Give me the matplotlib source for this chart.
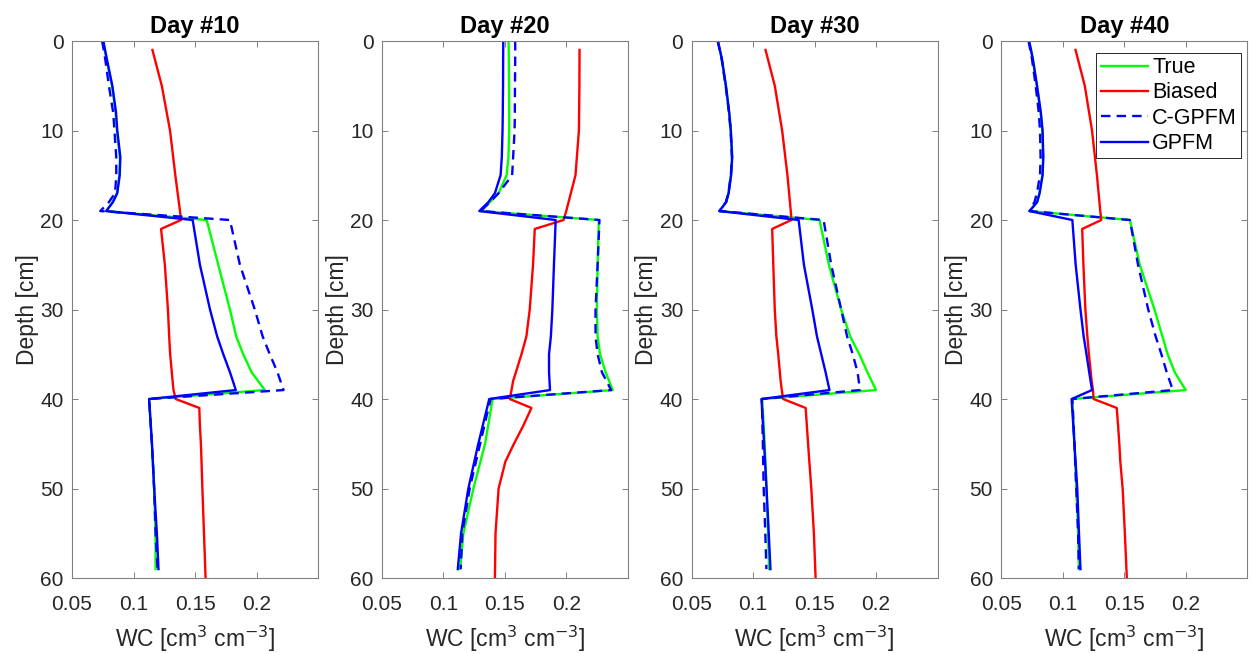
import matplotlib
matplotlib.use('Agg')
import matplotlib.pyplot as plt

plt.rcParams['font.family'] = ['Liberation Sans', 'DejaVu Sans']

days = ['Day #10', 'Day #20', 'Day #30', 'Day #40']
series = ['True', 'Biased', 'C-GPFM', 'GPFM']

# depths [cm] for the simulated profiles and for the biased profile
depth_sim = [0, 2, 5, 8, 10, 13, 15, 17, 18, 19, 20, 25, 30, 33, 35, 37, 39, 40, 45, 50, 55, 59]
depth_biased = [1, 5, 10, 15, 19, 20, 21, 25, 30, 33, 35, 38, 39, 40, 41, 43, 45, 47, 50, 55, 60]

# day 10
true_10 = [0.0751, 0.0780, 0.0825, 0.0855, 0.0865, 0.0890, 0.0885, 0.0865, 0.0830, 0.0778,
           0.1595, 0.1689, 0.1784, 0.1835, 0.1892, 0.1960, 0.2068,
           0.1127, 0.1150, 0.1168, 0.1178, 0.1180]
biased_10 = [0.1154, 0.1230, 0.1297, 0.1340, 0.1378, 0.1386, 0.1224, 0.1255, 0.1280, 0.1290,
             0.1298, 0.1318, 0.1325, 0.1343, 0.1535, 0.1540, 0.1548, 0.1553, 0.1560, 0.1573, 0.1586]
cgpfm_10 = [0.0745, 0.0770, 0.0800, 0.0835, 0.0845, 0.0860, 0.0860, 0.0850, 0.0800, 0.0730,
            0.1784, 0.1865, 0.1986, 0.2050, 0.2108, 0.2170, 0.2220,
            0.1127, 0.1150, 0.1168, 0.1180, 0.1195]
gpfm_10 = [0.0755, 0.0783, 0.0828, 0.0858, 0.0868, 0.0893, 0.0888, 0.0868, 0.0833, 0.0778,
           0.1481, 0.1540, 0.1622, 0.1680, 0.1730, 0.1784, 0.1832,
           0.1127, 0.1150, 0.1168, 0.1190, 0.1203]

# day 20
true_20 = [0.1531, 0.1533, 0.1535, 0.1536, 0.1536, 0.1530, 0.1515, 0.1450, 0.1380, 0.1300,
           0.2265, 0.2255, 0.2249, 0.2255, 0.2275, 0.2320, 0.2378,
           0.1401, 0.1340, 0.1245, 0.1164, 0.1137]
biased_20 = [0.2108, 0.2107, 0.2103, 0.2075, 0.2000, 0.1978, 0.1744, 0.1730, 0.1703, 0.1676,
             0.1636, 0.1568, 0.1555, 0.1541, 0.1717, 0.1650, 0.1575, 0.1505, 0.1450, 0.1425, 0.1420]
cgpfm_20 = [0.1585, 0.1585, 0.1583, 0.1582, 0.1580, 0.1568, 0.1560, 0.1450, 0.1380, 0.1305,
            0.2270, 0.2255, 0.2238, 0.2238, 0.2255, 0.2290, 0.2365,
            0.1385, 0.1300, 0.1215, 0.1155, 0.1142]
gpfm_20 = [0.1488, 0.1487, 0.1486, 0.1484, 0.1482, 0.1476, 0.1466, 0.1420, 0.1367, 0.1293,
           0.1914, 0.1900, 0.1887, 0.1875, 0.1860, 0.1860, 0.1868,
           0.1374, 0.1285, 0.1204, 0.1145, 0.1118]

# day 30
true_30 = [0.0713, 0.0745, 0.0778, 0.0805, 0.0818, 0.0829, 0.0820, 0.0800, 0.0780, 0.0727,
           0.1541, 0.1617, 0.1717, 0.1790, 0.1865, 0.1930, 0.2000,
           0.1075, 0.1095, 0.1110, 0.1122, 0.1131]
biased_30 = [0.1102, 0.1177, 0.1237, 0.1280, 0.1307, 0.1312, 0.1156, 0.1165, 0.1177, 0.1190,
             0.1205, 0.1225, 0.1234, 0.1245, 0.1428, 0.1438, 0.1448, 0.1458, 0.1474, 0.1495, 0.1509]
cgpfm_30 = [0.0713, 0.0745, 0.0778, 0.0805, 0.0818, 0.0829, 0.0820, 0.0800, 0.0780, 0.0727,
            0.1574, 0.1636, 0.1717, 0.1765, 0.1811, 0.1850, 0.1870,
            0.1072, 0.1080, 0.1087, 0.1100, 0.1109]
gpfm_30 = [0.0715, 0.0747, 0.0780, 0.0807, 0.0820, 0.0831, 0.0822, 0.0802, 0.0782, 0.0727,
           0.1371, 0.1414, 0.1482, 0.1520, 0.1555, 0.1590, 0.1622,
           0.1069, 0.1090, 0.1110, 0.1128, 0.1142]

# day 40
true_40 = [0.0725, 0.0755, 0.0789, 0.0820, 0.0834, 0.0840, 0.0834, 0.0810, 0.0790, 0.0730,
           0.1546, 0.1626, 0.1746, 0.1810, 0.1853, 0.1910, 0.2000,
           0.1078, 0.1095, 0.1110, 0.1125, 0.1131]
biased_40 = [0.1104, 0.1179, 0.1238, 0.1278, 0.1305, 0.1313, 0.1158, 0.1168, 0.1184, 0.1200,
             0.1213, 0.1235, 0.1246, 0.1251, 0.1439, 0.1450, 0.1460, 0.1468, 0.1487, 0.1505, 0.1521]
cgpfm_40 = [0.0722, 0.0750, 0.0780, 0.0805, 0.0815, 0.0820, 0.0815, 0.0790, 0.0770, 0.0730,
            0.1546, 0.1612, 0.1695, 0.1755, 0.1802, 0.1845, 0.1895,
            0.1078, 0.1095, 0.1110, 0.1125, 0.1131]
gpfm_40 = [0.0727, 0.0757, 0.0791, 0.0822, 0.0836, 0.0842, 0.0836, 0.0812, 0.0792, 0.0730,
           0.1078, 0.1105, 0.1144, 0.1170, 0.1193, 0.1215, 0.1238,
           0.1072, 0.1095, 0.1118, 0.1132, 0.1144]

profiles = [
    (true_10, biased_10, cgpfm_10, gpfm_10),
    (true_20, biased_20, cgpfm_20, gpfm_20),
    (true_30, biased_30, cgpfm_30, gpfm_30),
    (true_40, biased_40, cgpfm_40, gpfm_40),
]

xticks = [0.05, 0.1, 0.15, 0.2]
xticklabels = ['0.05', '0.1', '0.15', '0.2']
yticks = [0, 10, 20, 30, 40, 50, 60]

fig = plt.figure(figsize=(12.5, 6.54), dpi=100)
text_col = '#262626'
lw = 1.7

for k, (day, prof) in enumerate(zip(days, profiles)):
    ax = fig.add_axes([0.0576 + k * 0.2478, 0.1162, 0.1968, 0.8211])
    tr, bi, cg, gp = prof
    ax.plot(tr, depth_sim, color='#00ff00', lw=lw, label=series[0])
    ax.plot(bi, depth_biased, color='#ff0000', lw=lw, label=series[1])
    ax.plot(cg, depth_sim, color='#0000ff', lw=lw, ls=(0, (4.0, 2.6)), label=series[2])
    ax.plot(gp, depth_sim, color='#0000ff', lw=lw, label=series[3])

    ax.set_xlim(0.05, 0.25)
    ax.set_ylim(60, 0)
    ax.set_xticks(xticks)
    ax.set_xticklabels(xticklabels)
    ax.set_yticks(yticks)
    ax.tick_params(direction='in', top=True, right=True, length=4, width=0.7,
                   color='#808080', labelcolor=text_col, labelsize=15)
    ax.tick_params(axis='x', pad=12)
    ax.tick_params(axis='y', pad=6)
    for sp in ax.spines.values():
        sp.set_color('#808080')
        sp.set_linewidth(0.8)
    ax.set_title(day, fontsize=17, fontweight='bold', color='black', pad=6)
    ax.set_xlabel(r'WC [cm$^3$ cm$^{-3}$]', fontsize=16.5, color=text_col, labelpad=7)
    ax.set_ylabel('Depth [cm]', fontsize=16.5, color=text_col, labelpad=1)
    if k == 3:
        leg = ax.legend(loc='upper right', bbox_to_anchor=(0.976, 0.978), borderaxespad=0,
                        fontsize=15.5, handlelength=2.2, handletextpad=0.2,
                        borderpad=0.2, labelspacing=0.2, fancybox=False, framealpha=1)
        leg.get_frame().set_edgecolor('#262626')
        leg.get_frame().set_linewidth(0.7)

fig.savefig('out.png', dpi=100)
